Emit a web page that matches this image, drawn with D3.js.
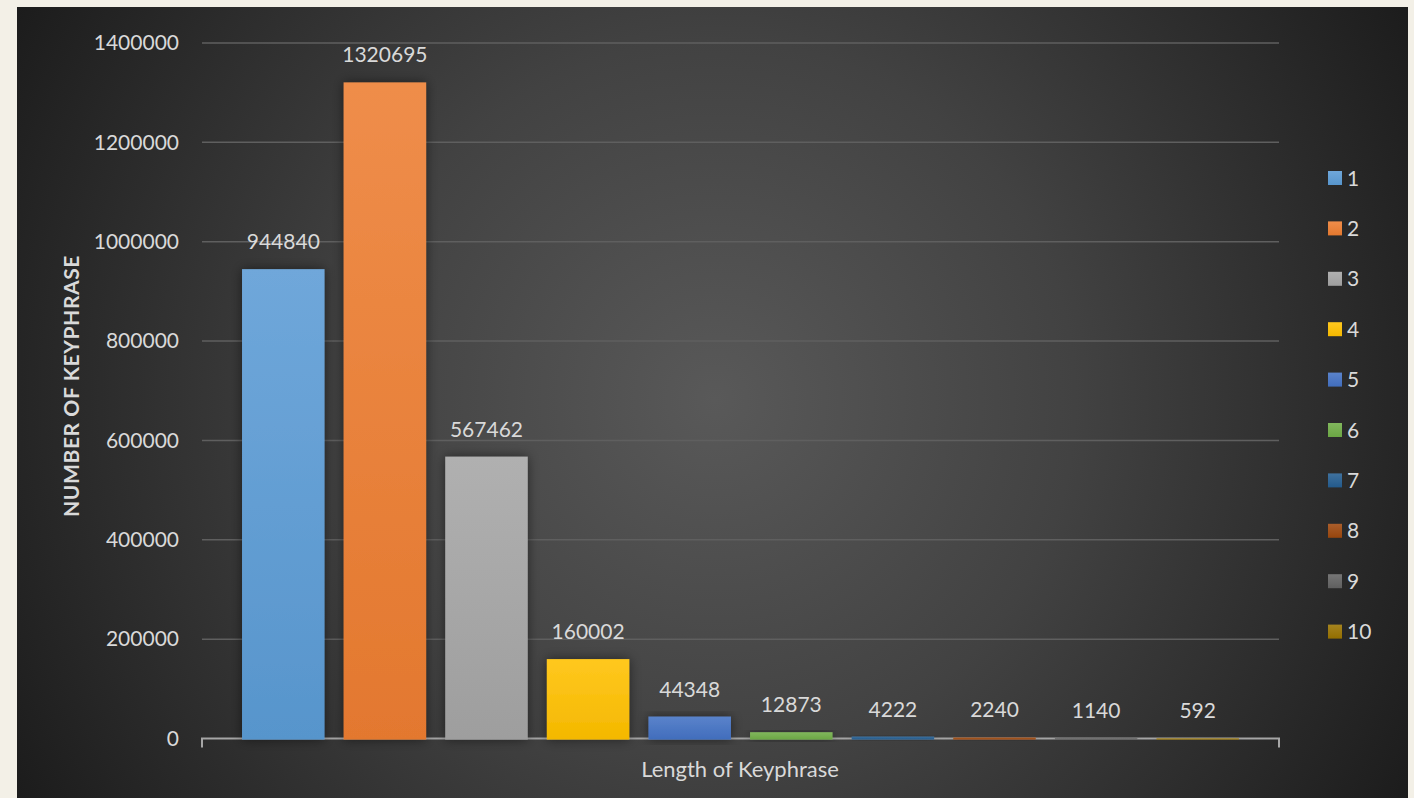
<!DOCTYPE html>
<html>
<head>
<meta charset="utf-8">
<script src="https://cdn.jsdelivr.net/npm/d3@7"></script>
<style>
body{margin:0;background:#f3f0e7;}
svg{display:block;}
text{font-family:Lato,"Open Sans",sans-serif;}
</style>
</head>
<body>
<svg id="chart" width="1414" height="798"></svg>
<script>
var series = ['1','2','3','4','5','6','7','8','9','10'];//length of keyphrase
var counts = [944840, 1320695, 567462, 160002, 44348, 12873, 4222, 2240, 1140, 592];
var colors = ['#5b9bd5','#ed7d31','#a5a5a5','#ffc000','#4472c4','#70ad47','#255e91','#9e480e','#636363','#997300'];
var yTicks = [0, 200000, 400000, 600000, 800000, 1000000, 1200000, 1400000];

var svg = d3.select("#chart");
var defs = svg.append("defs");

//dark radial background
var bg = defs.append("radialGradient")
  .attr("id","bg").attr("gradientUnits","userSpaceOnUse")
  .attr("cx",715).attr("cy",400).attr("r",800);
bg.append("stop").attr("offset","0%").attr("stop-color","#595959");
bg.append("stop").attr("offset","45%").attr("stop-color","#424242");
bg.append("stop").attr("offset","100%").attr("stop-color","#1c1c1c");

svg.append("rect")
  .attr("x",17).attr("y",7).attr("width",1391).attr("height",800)
  .attr("fill","url(#bg)");

//bar shadow
var shadow = defs.append("filter").attr("id","shadow")
  .attr("x","-20%").attr("y","-20%").attr("width","140%").attr("height","140%");
shadow.append("feDropShadow").attr("dx",0).attr("dy",0).attr("stdDeviation",6)
  .attr("flood-color","#000").attr("flood-opacity",0.5);

//gradient per series (lighter top)
colors.forEach(function(c, i){
  var gr = defs.append("linearGradient").attr("id","g"+i)
    .attr("x1",0).attr("y1",0).attr("x2",0).attr("y2",1);
  gr.append("stop").attr("offset","0%").attr("stop-color", d3.interpolateRgb(c, "#fff")(0.12));
  gr.append("stop").attr("offset","100%").attr("stop-color", d3.color(c).darker(0.12));
});

var margin = {left:202, right:135, top:43, bottom:59};
var width = 1414 - margin.left - margin.right;
var height = 798 - margin.top - margin.bottom - 0.4;

var g = svg.append("g").attr("transform","translate(" + margin.left + "," + margin.top + ")");

var x = d3.scaleBand()
  .domain(series)
  .range([0, width])
  .paddingInner(0.188)
  .paddingOuter(0.394);

var y = d3.scaleLinear()
  .domain([0, 1400000])
  .range([height, 0]);

//gridlines
g.append("g")
  .selectAll("line")
  .data(yTicks.slice(1))
  .enter().append("line")
  .attr("x1",0).attr("x2",width)
  .attr("y1",function(d){ return y(d); })
  .attr("y2",function(d){ return y(d); })
  .attr("stroke","#5f5f5f").attr("stroke-width",1.5);

//y axis labels
var yAxis = g.append("g")
  .call(d3.axisLeft(y).tickValues(yTicks).tickSize(0).tickPadding(23).tickFormat(d3.format("d")));
yAxis.select(".domain").remove();
yAxis.selectAll("text")
  .attr("fill","#d9d9d9")
  .style("font-size","21px")
  .style("font-family","Lato, 'Open Sans', sans-serif");

//x axis line with end ticks (under the bars)
g.append("path")
  .attr("d","M0," + (height+9) + "V" + height + "H" + width + "V" + (height+9))
  .attr("fill","none")
  .attr("stroke","#a6a6a6")
  .attr("stroke-width",2);

//bars
g.append("g")
  .selectAll("rect")
  .data(counts)
  .enter().append("rect")
  .attr("x",function(d,i){ return x(series[i]); })
  .attr("width", x.bandwidth())
  .attr("y",function(d){ return y(d); })
  .attr("height",function(d){ return height - y(d) + 1; })
  .attr("fill",function(d,i){ return "url(#g"+i+")"; })
  .attr("filter","url(#shadow)");

//value labels
g.append("g")
  .selectAll("text")
  .data(counts)
  .enter().append("text")
  .attr("x",function(d,i){ return x(series[i]) + x.bandwidth()/2; })
  .attr("y",function(d){ return y(d) - 20; })
  .attr("text-anchor","middle")
  .attr("fill","#d9d9d9")
  .style("font-size","21px")
  .text(function(d){ return d; });

//axis titles
svg.append("text")
  .attr("x",740).attr("y",777)
  .attr("text-anchor","middle")
  .attr("fill","#d9d9d9")
  .style("font-size","22px")
  .text("Length of Keyphrase");

svg.append("text")
  .attr("transform","translate(79,386) rotate(-90)")
  .attr("text-anchor","middle")
  .attr("fill","#d9d9d9")
  .style("font-size","21px")
  .style("letter-spacing","0.6px")
  .style("font-weight","bold")
  .text("NUMBER OF KEYPHRASE");

//legend
var legend = svg.append("g")
  .selectAll("g")
  .data(series)
  .enter().append("g")
  .attr("transform",function(d,i){ return "translate(1328," + (178 + i*50.4) + ")"; });

legend.append("rect")
  .attr("x",0).attr("y",-7)
  .attr("width",14).attr("height",14)
  .attr("fill",function(d,i){ return "url(#g"+i+")"; });

legend.append("text")
  .attr("x",19).attr("y",0).attr("dy","0.36em")
  .attr("fill","#d9d9d9")
  .style("font-size","21px")
  .text(function(d){ return d; });
</script>
</body>
</html>
